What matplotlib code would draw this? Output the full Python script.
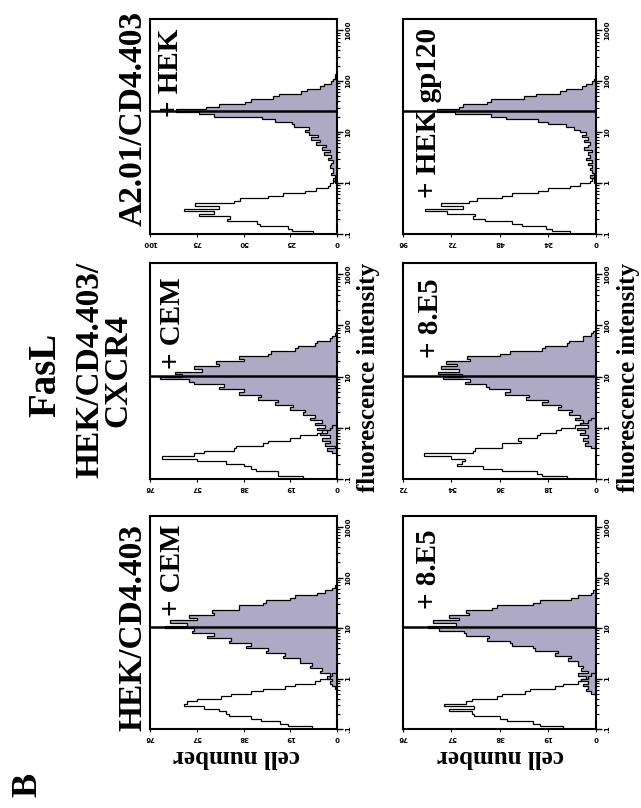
import numpy as np
import matplotlib.pyplot as plt
from matplotlib.ticker import LogLocator, NullFormatter

# FACS histograms, FasL staining. Counts per 0.05-decade channel group,
# read off the scanned figure. *_start = log10 of the first channel edge.
BIN = 0.05

tl_ctrl_start = -1.0
tl_ctrl = [13, 24, 26, 41, 43, 59, 57, 74, 66, 82, 63, 76, 55, 52, 37, 29, 17, 11, 5, 4, 2, 1]
tl_fasl_start = 0.0
tl_fasl = [1, 2, 1, 3, 2, 2, 4, 3, 2, 5, 3, 7, 4, 8, 6, 11, 9, 14, 10, 15,
           17, 15, 23, 24, 33, 40, 66, 74, 86, 70, 63, 49, 46, 34, 31, 19, 16, 9, 7, 3,
           2, 1, 1]

tr_ctrl_start = -1.0
tr_ctrl = [13, 22, 25, 37, 42, 55, 61, 60, 74, 85, 66, 77, 63, 59, 47, 42, 29, 24, 13, 8, 3, 2, 1]
tr_fasl_start = 0.0
tr_fasl = [1, 1, 3, 1, 2, 3, 2, 4, 2, 5, 3, 4, 2, 6, 4, 3, 6, 4, 7, 5,
           8, 11, 15, 24, 29, 45, 52, 70, 79, 68, 66, 54, 52, 36, 30, 18, 15, 7, 5, 2,
           1]

ml_ctrl_start = -1.0
ml_ctrl = [14, 24, 24, 33, 35, 38, 45, 57, 71, 58, 54, 42, 41, 30, 28, 19, 15, 8, 6, 3, 2]
ml_fasl_start = -0.5
ml_fasl = [2, 4, 1, 5, 3, 6, 3, 7, 4, 8, 5, 9, 6, 11, 9, 14, 13, 19, 18, 25,
           24, 32, 31, 40, 38, 48, 46, 58, 60, 72, 63, 66, 55, 58, 48, 49, 38, 40, 28, 27,
           17, 16, 9, 8, 3, 2, 1]

mr_ctrl_start = -1.0
mr_ctrl = [11, 20, 22, 35, 42, 52, 50, 49, 54, 64, 46, 45, 35, 35, 28, 29, 22, 21, 15, 13, 8, 6, 3, 2]
mr_fasl_start = -0.4
mr_fasl = [2, 4, 3, 5, 3, 6, 4, 7, 3, 6, 5, 8, 6, 10, 9, 14, 13, 20, 18, 26,
           25, 34, 32, 40, 41, 49, 47, 57, 50, 59, 51, 58, 52, 56, 47, 48, 36, 32, 20, 19,
           11, 10, 5, 5, 2, 1]

bl_ctrl_start = -1.0
bl_ctrl = [10, 20, 23, 31, 35, 44, 45, 48, 54, 62, 61, 57, 47, 43, 35, 30, 21, 17, 9, 7, 3, 2]
bl_fasl_start = -0.2
bl_fasl = [1, 2, 3, 2, 4, 3, 7, 6, 11, 10, 15, 15, 22, 21, 29, 28, 37, 35, 44, 43,
           53, 50, 59, 58, 70, 61, 68, 57, 60, 50, 51, 40, 40, 30, 29, 19, 17, 8, 5, 2,
           1]

br_ctrl_start = -1.0
br_ctrl = [13, 22, 25, 35, 38, 48, 49, 58, 48, 60, 51, 49, 39, 37, 28, 26, 16, 13, 7, 6, 3, 2]
br_fasl_start = -0.3
br_fasl = [2, 4, 3, 5, 3, 6, 4, 7, 3, 6, 5, 7, 7, 11, 10, 16, 15, 24, 25, 33,
           34, 43, 42, 51, 52, 62, 66, 55, 64, 54, 58, 50, 51, 41, 39, 25, 22, 10, 7, 2,
           1]

row_titles = ["A2.01/CD4.403", "HEK/CD4.403/\nCXCR4", "HEK/CD4.403"]
panel_labels = [["+ HEK", "+ HEK gp120"], ["+ CEM", "+ 8.E5"], ["+ CEM", "+ 8.E5"]]
count_ticks = [[[0, 25, 50, 75, 100], [0, 24, 48, 72, 96]],
               [[0, 19, 38, 57, 76], [0, 18, 36, 54, 72]],
               [[0, 19, 38, 57, 76], [0, 19, 38, 57, 76]]]
gate = [[26, 26], [10.5, 10.5], [10.5, 10.5]]
fl_ticks = [0.1, 1, 10, 100, 1000]
fl_labels = [".1", "1", "10", "100", "1000"]

hists = [[(tl_ctrl_start, tl_ctrl, tl_fasl_start, tl_fasl), (tr_ctrl_start, tr_ctrl, tr_fasl_start, tr_fasl)],
         [(ml_ctrl_start, ml_ctrl, ml_fasl_start, ml_fasl), (mr_ctrl_start, mr_ctrl, mr_fasl_start, mr_fasl)],
         [(bl_ctrl_start, bl_ctrl, bl_fasl_start, bl_fasl), (br_ctrl_start, br_ctrl, br_fasl_start, br_fasl)]]

FILL = '#aeaac5'
SERIF = 'Liberation Serif'
W, H = 641, 808

fig = plt.figure(figsize=(W / 100, H / 100), dpi=100)

def fx(x):
    return x / W

def fy(y):
    return 1 - y / H

def edges(start, vals):
    return 10 ** (start + BIN * np.arange(len(vals) + 1))

# panel boxes in pixels (the figure is shown turned on its side)
col_x = [(150, 337), (403, 596)]
row_y = [(19, 234), (263, 479), (516, 729)]
label_pos = [[(171, 73), (428, 113)], [(172, 323), (431, 318)], [(172, 570), (429, 569)]]

for r in range(3):
    for c in range(2):
        x0, x1 = col_x[c]
        y0, y1 = row_y[r]
        ax = fig.add_axes([fx(x0), fy(y1), (x1 - x0) / W, (y1 - y0) / H])
        cs, cv, fs, fv = hists[r][c]
        ax.stairs(fv, edges(fs, fv), orientation='horizontal', fill=True, color=FILL)
        ax.stairs(fv, edges(fs, fv), orientation='horizontal', color='black', lw=0.9)
        ax.stairs(cv, edges(cs, cv), orientation='horizontal', color='black', lw=0.9)
        ax.axhline(gate[r][c], color='black', lw=1.8)

        ax.set_yscale('log')
        ax.set_ylim(0.1, 10 ** 3.22)
        ticks = count_ticks[r][c]
        ax.set_xlim(ticks[-1], 0)

        ax.yaxis.tick_right()
        ax.set_yticks(fl_ticks)
        ax.set_yticklabels(fl_labels, rotation=90, fontsize=5, fontweight='bold', va='center')
        ax.yaxis.set_minor_locator(LogLocator(base=10, subs=np.arange(2, 10)))
        ax.yaxis.set_minor_formatter(NullFormatter())
        ax.tick_params(axis='y', which='major', length=4, width=1, pad=2)
        ax.tick_params(axis='y', which='minor', length=2.5, width=0.8)
        ax.set_xticks(ticks)
        ax.set_xticklabels([str(t) for t in ticks], rotation=180, fontsize=5, fontweight='bold')
        ax.tick_params(axis='x', length=2, width=0.8, pad=2)
        for s in ax.spines.values():
            s.set_linewidth(1.5)

        lx, ly = label_pos[r][c]
        fig.text(fx(lx), fy(ly), panel_labels[r][c], rotation=90, ha='center', va='center',
                 fontsize=21, family=SERIF, fontweight='bold')

# row titles, header and axis names
fig.text(fx(133), fy(118), row_titles[0], rotation=90, ha='center', va='center',
         fontsize=24, family=SERIF, fontweight='bold')
fig.text(fx(104), fy(370), row_titles[1], rotation=90, ha='center', va='center',
         fontsize=24, family=SERIF, fontweight='bold', linespacing=0.85)
fig.text(fx(133), fy(628), row_titles[2], rotation=90, ha='center', va='center',
         fontsize=24, family=SERIF, fontweight='bold')
fig.text(fx(46), fy(375), "FasL", rotation=90, ha='center', va='center',
         fontsize=28, family=SERIF, fontweight='bold')
fig.text(fx(28), fy(785), "B", rotation=90, ha='center', va='center',
         fontsize=26, family=SERIF, fontweight='bold')

for x in (237, 500):
    fig.text(fx(x), fy(756), "cell number", rotation=180, ha='center', va='center',
             fontsize=18, family=SERIF, fontweight='bold')
for x in (368, 628):
    fig.text(fx(x), fy(378), "fluorescence intensity", rotation=90, ha='center', va='center',
             fontsize=18, family=SERIF, fontweight='bold')

fig.savefig('out.png', dpi=100)
